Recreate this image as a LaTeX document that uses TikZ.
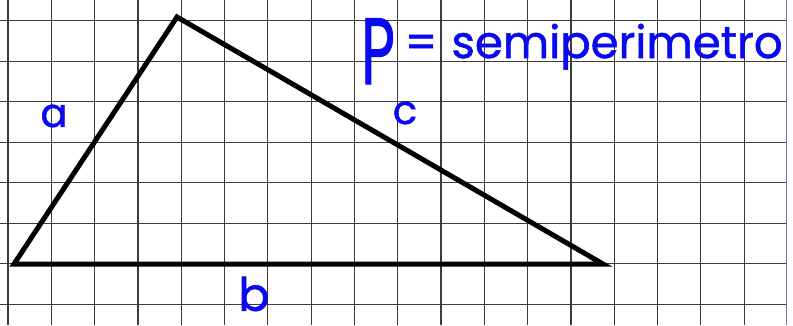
\documentclass[tikz,border=0pt]{standalone}
\usepackage{fontspec}
\setmainfont{Poppins}
\newfontfamily\hand[FakeBold=1.2]{Poppins}
\definecolor{ink}{RGB}{10,10,240}
\definecolor{gridc}{RGB}{60,60,60}
\definecolor{edge}{RGB}{110,110,210}
\tikzset{
  gridline/.style={draw=gridc, line width=1.2pt},
  side/.style={draw=black, line width=5pt, line join=miter},
  lbl/.style={text=ink, inner sep=0pt, font=\hand\fontsize{40}{40}\selectfont},
}
\begin{document}
\begin{tikzpicture}[x=1pt,y=-1pt]
\useasboundingbox (0,0) rectangle (793,325);
\fill[white] (0,0) rectangle (793,325);
% grid
\foreach \k in {0,...,17} {
  \draw[gridline] ({8+43.3*\k},0) -- ({8+43.3*\k},325);
}
\foreach \k in {0,...,7} {
  \draw[gridline] (0,{20.7+40.5*\k}) -- (786,{20.7+40.5*\k});
}
\draw[edge, line width=1.6pt] (786.5,0) -- (786.5,325);
% triangle
\coordinate (A) at (14,264);
\coordinate (B) at (177,17);
\coordinate (C) at (603,264);
\draw[side] (A) -- (B) -- (C) -- cycle;
% labels
\node[lbl] (la) at (54,116) {a};
\node[lbl] (lc) at (405,113) {c};
\node[lbl, font=\hand\fontsize{46}{46}\selectfont] (lb) at (254,294) {b};
\node[text=ink, inner sep=0pt, anchor=base west, font=\hand\fontsize{45}{45}\selectfont] (title) at (361,58)
  {\raisebox{-26pt}{\scalebox{0.62}[1]{\fontsize{94}{94}\selectfont P}}\hspace{10pt}=\hspace{14pt}semiperimetro};
\end{tikzpicture}
\end{document}
